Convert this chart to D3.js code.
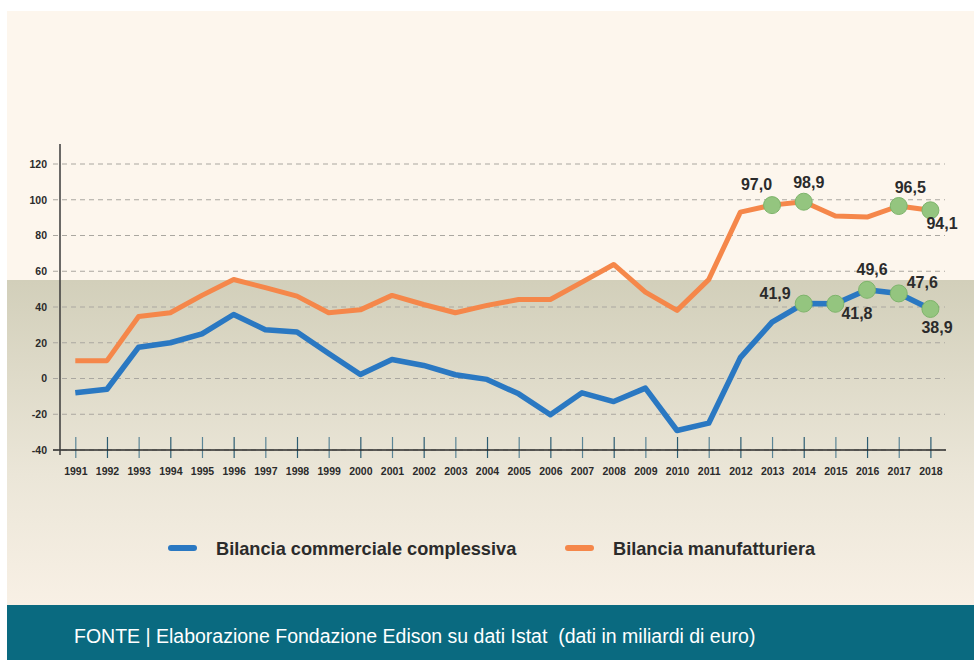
<!DOCTYPE html>
<html>
<head>
<meta charset="utf-8">
<script src="https://cdn.jsdelivr.net/npm/d3@7"></script>
<style>
  body { margin: 0; background: #fff; }
  svg { display: block; }
</style>
</head>
<body>
<script>
let years = d3.range(1991, 2019)

let commerciale = [-8, -6, 17.5, 20, 25, 35.8, 27.3, 26, 14, 2.2, 10.6, 7.3, 2.1, -0.5, -8.6, -20.3, -8, -12.9, -5.4, -29.1, -25, 11.7, 31.5, 41.9, 41.8, 49.6, 47.6, 38.9]
let manifatturiera = [10, 10, 34.7, 36.8, 46.5, 55.4, 50.8, 46.1, 36.8, 38.4, 46.5, 41.4, 36.8, 40.9, 44.2, 44.2, 53.9, 63.8, 48.3, 38.1, 55.3, 93.1, 97.0, 98.9, 90.9, 90.3, 96.5, 94.1]

let yTicks = [-40, -20, 0, 20, 40, 60, 80, 100, 120]

// labelled points: year, series
let markersMan = [2013, 2014, 2017, 2018]
let markersCom = [2014, 2015, 2016, 2017, 2018]

// label placement (anchor, dx, dy) per labelled point
let labelPosMan = [['end', 0, -15], ['middle', 5, -14], ['start', -4, -13], ['start', -4, 19]]
let labelPosCom = [['end', -13, -5], ['start', 6, 15], ['middle', 5, -15], ['start', 8, -5], ['start', -9, 24]]

let legendLabels = ['Bilancia commerciale complessiva', 'Bilancia manufatturiera']
let fonte = 'FONTE | Elaborazione Fondazione Edison su dati Istat  (dati in miliardi di euro)'

let blue = '#2a78c2'
let orange = '#f5874a'

let W = 974, H = 660

let svg = d3.select('body').append('svg')
    .attr('width', W)
    .attr('height', H)
    .style('font-family', '"Liberation Sans", Arial, sans-serif')

// background panels
svg.append('rect').attr('x', 7).attr('y', 11).attr('width', W - 7).attr('height', 594).attr('fill', '#fdf6ed')

let defs = svg.append('defs')
let grad = defs.append('linearGradient').attr('id', 'band').attr('x1', 0).attr('x2', 0).attr('y1', 0).attr('y2', 1)
grad.append('stop').attr('offset', '0%').attr('stop-color', '#d2cfba')
grad.append('stop').attr('offset', '60%').attr('stop-color', '#ebe6d8')
grad.append('stop').attr('offset', '100%').attr('stop-color', '#f8f0e5')

let x = d3.scaleLinear().domain([1991, 2018]).range([75.3, 930.4])
let y = d3.scaleLinear().domain([-40, 120]).range([450, 164])

svg.append('rect').attr('x', 7).attr('y', 280).attr('width', W - 7).attr('height', 325).attr('fill', 'url(#band)')

svg.append('rect').attr('x', 7).attr('y', 605).attr('width', W - 7).attr('height', H - 605).attr('fill', '#0a6a80')

// grid
let grid = svg.append('g')
grid.selectAll('line')
    .data(yTicks)
    .enter().append('line')
    .attr('x1', 53).attr('x2', 945)
    .attr('y1', d => y(d)).attr('y2', d => y(d))
    .attr('stroke', '#aaa7a0')
    .attr('stroke-width', 1)
    .attr('stroke-dasharray', '5,4')

// y axis labels
let yAxis = d3.axisLeft(y).tickValues(yTicks).tickFormat(d => String(d)).tickSize(0).tickPadding(0)
svg.append('g')
    .attr('transform', 'translate(47,0)')
    .call(yAxis)
    .call(g => g.select('.domain').remove())
    .selectAll('text')
    .attr('fill', '#2b2b2b')
    .attr('font-size', 10.5)
    .attr('font-weight', 'bold')
    .attr('font-family', '"Liberation Sans", Arial, sans-serif')

// x axis: ticks crossing the baseline
let xAxis = d3.axisBottom(x).tickValues(years).tickFormat(d3.format('d')).tickSize(0).tickPadding(0)
let xg = svg.append('g')
    .attr('transform', 'translate(0,' + y(-40) + ')')
    .call(xAxis)
xg.select('.domain').remove()
xg.selectAll('.tick').append('line')
    .attr('y1', -13).attr('y2', 8)
    .attr('stroke', (d, i) => i % 2 ? '#2c5c72' : '#5b8596')
    .attr('stroke-width', 1.2)
xg.selectAll('text')
    .attr('y', 25)
    .attr('dy', 0)
    .attr('fill', '#2b2b2b')
    .attr('font-size', 10.5)
    .attr('font-weight', 'bold')
    .attr('font-family', '"Liberation Sans Narrow", "Liberation Sans", Arial, sans-serif')

svg.append('line')
    .attr('x1', 53).attr('x2', 946)
    .attr('y1', y(-40)).attr('y2', y(-40))
    .attr('stroke', '#2b2b2b').attr('stroke-width', 1.5)

svg.append('line')
    .attr('x1', 60).attr('x2', 60)
    .attr('y1', 144).attr('y2', 455)
    .attr('stroke', '#3a3a3a').attr('stroke-width', 1.5)

// lines
let line = d3.line()
    .x((d, i) => x(years[i]))
    .y(d => y(d))

svg.append('path')
    .datum(manifatturiera)
    .attr('d', line)
    .attr('fill', 'none')
    .attr('stroke', orange)
    .attr('stroke-width', 5)
    .attr('stroke-linejoin', 'round')

svg.append('path')
    .datum(commerciale)
    .attr('d', line)
    .attr('fill', 'none')
    .attr('stroke', blue)
    .attr('stroke-width', 5.5)
    .attr('stroke-linejoin', 'round')

// markers + labels
function fmt(v) { return d3.format('.1f')(v).replace('.', ',') }

function drawMarkers(yrs, values, pos) {
    let pts = yrs.map((yr, i) => ({ yr: yr, v: values[years.indexOf(yr)], p: pos[i] }))
    let g = svg.append('g')
    g.selectAll('circle')
        .data(pts)
        .enter().append('circle')
        .attr('cx', d => x(d.yr))
        .attr('cy', d => y(d.v))
        .attr('r', 8.5)
        .attr('fill', '#94c57f')
        .attr('stroke', '#7eb46b')
        .attr('stroke-width', 1)
    g.selectAll('text')
        .data(pts)
        .enter().append('text')
        .attr('x', d => x(d.yr) + d.p[1])
        .attr('y', d => y(d.v) + d.p[2])
        .attr('text-anchor', d => d.p[0])
        .attr('font-size', 16)
        .attr('font-weight', 'bold')
        .attr('fill', '#2b2b2b')
        .text(d => fmt(d.v))
}

drawMarkers(markersMan, manifatturiera, labelPosMan)
drawMarkers(markersCom, commerciale, labelPosCom)

// legend
let legend = svg.append('g')
let legX = [168, 565]
let legColors = [blue, orange]
legend.selectAll('line')
    .data(legendLabels)
    .enter().append('line')
    .attr('x1', (d, i) => legX[i] + 3).attr('x2', (d, i) => legX[i] + 26)
    .attr('y1', 548).attr('y2', 548)
    .attr('stroke', (d, i) => legColors[i])
    .attr('stroke-width', 6)
    .attr('stroke-linecap', 'round')
legend.selectAll('text')
    .data(legendLabels)
    .enter().append('text')
    .attr('x', (d, i) => legX[i] + 48)
    .attr('y', 555)
    .attr('font-size', 18.2)
    .attr('font-weight', 'bold')
    .attr('fill', '#2b2b2b')
    .text(d => d)

// footer
svg.append('text')
    .attr('x', 74)
    .attr('y', 643)
    .attr('font-size', 19.5)
    .attr('fill', '#ffffff')
    .style('white-space', 'pre')
    .text(fonte)
</script>
</body>
</html>
